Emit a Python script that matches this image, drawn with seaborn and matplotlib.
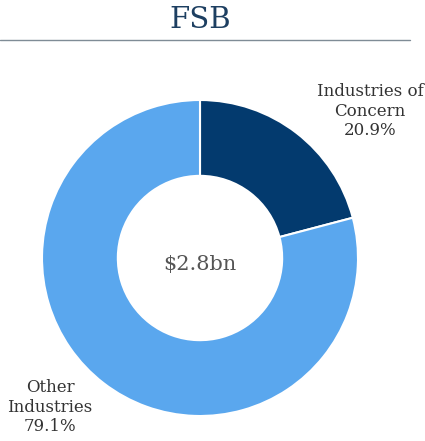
import matplotlib
matplotlib.use("Agg")
import matplotlib.pyplot as plt
import seaborn as sns

title = "FSB"
categories = ["Industries of\nConcern", "Other\nIndustries"]
shares = [20.9, 79.1]
total_label = "$2.8bn"
colors = ["#033a6e", "#5aa7ee"]

sns.set_theme(style="white")
plt.rcParams["font.family"] = ["DejaVu Serif"]

W, H = 425, 441
fig = plt.figure(figsize=(W / 100, H / 100), dpi=100)
fig.patch.set_facecolor("white")

# title and rule beneath it
fig.text(200 / W, 1 - 20 / H, title, ha="center", va="center",
         fontsize=21, color="#1d3f61")
fig.add_artist(plt.Line2D([0, 410 / W], [1 - 40 / H, 1 - 40 / H],
                          color="#7f8c96", lw=1.0))

# donut
cx, cy, r = 200, 258, 158
ax = fig.add_axes([(cx - r) / W, (H - cy - r) / H, 2 * r / W, 2 * r / H])
ax.pie(shares, colors=colors, startangle=90, counterclock=False, radius=1,
       wedgeprops=dict(width=0.48, edgecolor="white", linewidth=1.5))
ax.set_xlim(-1, 1)
ax.set_ylim(-1, 1)
ax.set_aspect("equal")
ax.axis("off")

ax.text(0, -0.04, total_label, ha="center", va="center", fontsize=15,
        color="#555555")

# slice labels
fig.text(370 / W, 1 - 111 / H, f"{categories[0]}\n{shares[0]:.1f}%",
         ha="center", va="center", fontsize=12, color="#333333",
         linespacing=1.2)
fig.text(50 / W, 1 - 407 / H, f"{categories[1]}\n{shares[1]:.1f}%",
         ha="center", va="center", fontsize=12, color="#333333",
         linespacing=1.2)

fig.savefig("out.png", dpi=100, facecolor="white")
